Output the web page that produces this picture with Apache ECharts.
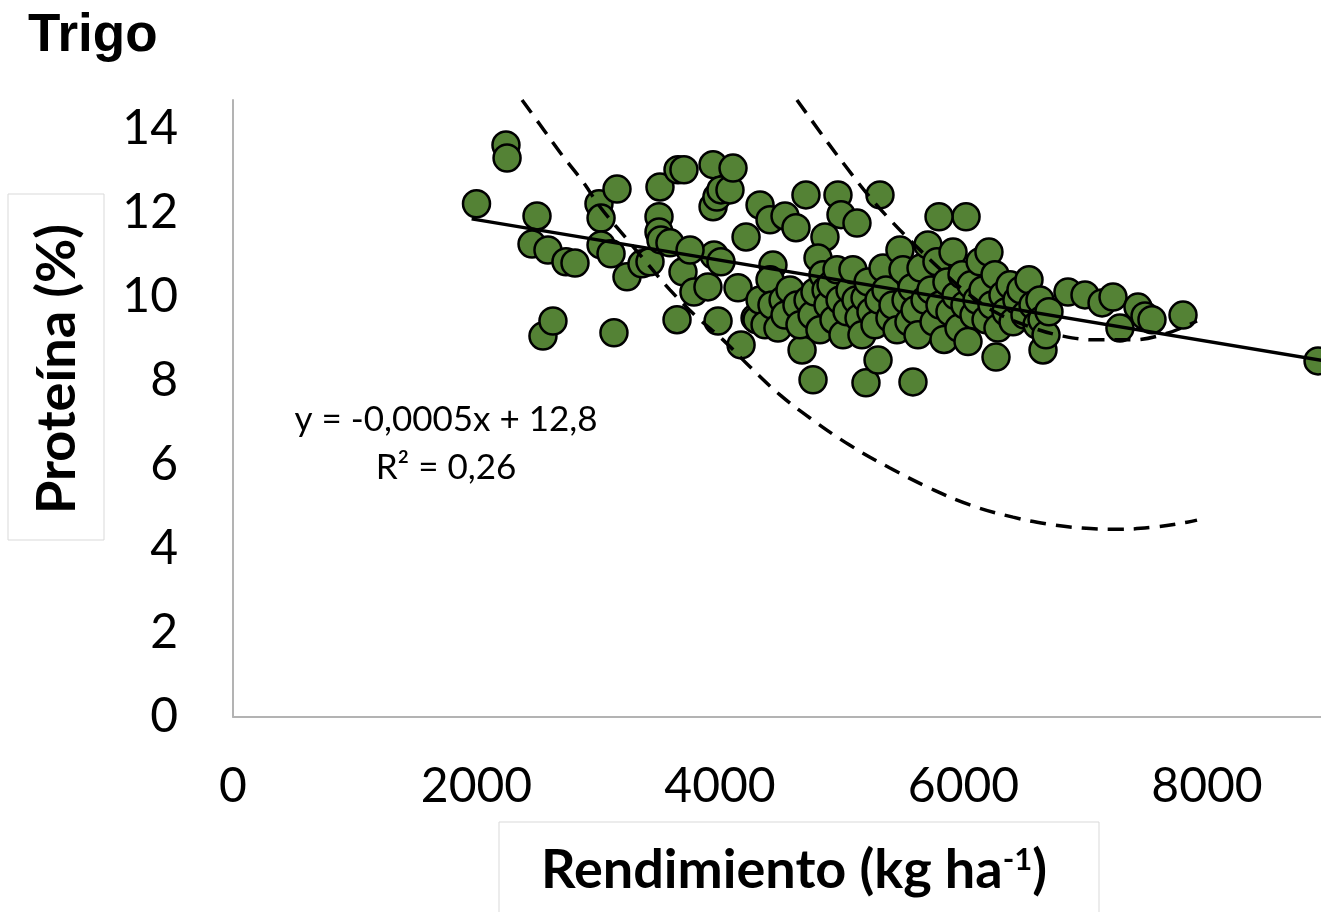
<!DOCTYPE html>
<html>
<head>
<meta charset="utf-8">
<script src="https://cdn.jsdelivr.net/npm/echarts@6/dist/echarts.min.js"></script>
<style>html,body{margin:0;padding:0;background:#fff}#c{width:1321px;height:912px}</style>
</head>
<body>
<div id="c"></div>
<script>
// ---- data ----
const yieldKg = [
  2000,2242,2251,2497,2456,2587,2546,2628,2735,2809,3006,3023,3023,3105,3129,3154,3236,3359,3425,3507,3499,3499,3515,3589,3655,3704,3647,3696,3786,3901,
  3943,3943,3975,4008,4082,4107,3951,4008,3984,4148,4173,4214,4288,4329,4411,4534,4624,4435,4706,4862,4969,4994,5125,5314,6021,5799,4764,5199,5585,4674,
  5298,6267,6653,3754,
  6858,6998,7138,7228,7285,7433,7491,7548,7803,8912,
  4304,4329,4370,4411,4427,4476,4518,4534,4575,4632,4657,
  4723,4756,4780,4805,4821,4846,4871,4887,4912,4936,4961,4986,5010,5043,5068,
  5092,5117,5142,5166,5191,5216,5240,5273,5306,5339,5363,5396,5421,5454,
  5478,5503,5528,5552,5577,5602,5626,5651,5684,5708,5733,5758,5782,5807,5840,5864,5889,
  5914,5938,5963,5988,6012,6037,6062,6086,6111,6136,6160,6185,6209,6234,6259,6283,
  6324,6349,6382,6407,6439,6472,6505,6538,6571,6604,6628,6645,6678,6702
];
const proteinPct = [
  12.21,13.61,13.30,11.92,11.25,11.11,9.06,9.42,10.83,10.80,12.21,11.87,11.23,11.02,9.14,12.56,10.47,10.78,10.83,12.61,11.90,11.54,11.35,11.28,13.02,13.02,9.45,10.59,10.11,10.23,
  13.14,12.14,12.37,12.54,12.54,13.06,10.99,10.83,9.42,10.21,8.85,11.42,9.49,12.18,11.83,11.92,11.64,10.75,12.42,11.42,12.42,11.95,11.75,12.42,11.90,11.90,8.02,7.95,7.97,8.73,
  8.49,8.56,8.73,11.11,
  10.11,10.04,9.85,9.99,9.25,9.75,9.54,9.45,9.56,8.47,
  9.45,9.92,9.33,10.40,9.80,9.25,9.92,9.56,10.16,9.80,9.33,
  9.92,9.56,10.11,10.92,9.21,10.52,10.16,9.80,10.28,9.45,10.64,9.92,9.09,9.64,10.16,
  10.64,9.92,9.49,9.09,9.97,10.35,9.64,9.33,9.92,10.68,10.16,9.49,9.80,9.21,
  11.11,10.64,9.92,9.40,10.21,9.68,9.09,10.68,9.92,11.23,10.16,9.40,10.83,9.80,8.98,10.35,9.64,
  11.06,10.02,9.25,10.52,9.80,8.93,10.28,9.56,9.92,10.83,10.16,9.45,11.06,9.80,10.52,9.25,
  10.04,9.64,10.28,9.40,9.92,10.16,9.56,10.40,9.80,9.33,9.92,9.45,9.09,9.64
];
const trendX = [1960, 8950];
const trendY = [11.85, 8.48];
const lowerBandX = [2374,2522,2702,2875,3014,3220,3400,3589,3811,4025,4246,4493,4739,5068,5396,5725,6053,6407,6686,6973,7261,7556,7836,7918];
const lowerBandY = [14.68,14.09,13.37,12.73,12.14,11.42,10.80,10.16,9.51,8.97,8.33,7.66,7.11,6.46,5.92,5.44,5.04,4.75,4.59,4.49,4.46,4.51,4.63,4.68];
const upperBandX = [4632,4887,5043,5216,5413,5618,5832,6029,6275,6546,6817,7097,7368,7655,7918];
const upperBandY = [14.68,13.66,13.06,12.42,11.78,11.18,10.59,10.09,9.61,9.28,9.06,8.97,8.97,9.11,9.42];
const xTicks = [0,2000,4000,6000,8000,10000];
const yTicks = [0,2,4,6,8,10,12,14];
const titleText = 'Trigo';
const xName = 'Rendimiento (kg ha';
const yName = 'Proteína (%)';
const eqText = 'y = -0,0005x + 12,8';
const r2Text = 'R² = 0,26';

const zip = (a, b) => a.map((v, i) => [v, b[i]]);
const chart = echarts.init(document.getElementById('c'), null, {renderer: 'canvas'});
const axisCol = '#b3b3b3';
chart.setOption({
  animation: false,
  backgroundColor: '#fff',
  grid: {left: 233, top: 100, width: 1217.5, height: 616.7, containLabel: false, outerBoundsMode: 'none'},
  xAxis: {
    type: 'value', min: xTicks[0], max: xTicks[xTicks.length-1], interval: 2000,
    axisLine: {show: true, onZero: false, lineStyle: {color: axisCol, width: 2}},
    axisTick: {show: false}, splitLine: {show: false},
    axisLabel: {fontFamily: 'Lato', fontSize: 48, color: '#000', margin: 46, formatter: v => String(v)}
  },
  yAxis: {
    type: 'value', min: 0, max: 14.68, interval: 2,
    axisLine: {show: true, onZero: false, lineStyle: {color: axisCol, width: 2}},
    axisTick: {show: false}, splitLine: {show: false},
    axisLabel: {fontFamily: 'Lato', fontSize: 48, color: '#000', margin: 55,
      formatter: v => (yTicks.indexOf(Math.round(v*100)/100) >= 0 ? String(v) : '')}
  },
  series: [
    {type: 'scatter', data: zip(yieldKg, proteinPct), symbol: 'circle', symbolSize: 27,
     itemStyle: {color: '#548235', borderColor: '#000', borderWidth: 2.5, opacity: 1}, z: 2},
    {type: 'line', data: zip(trendX, trendY), symbol: 'none', z: 5,
     lineStyle: {color: '#000', width: 3.5}},
    {type: 'line', data: zip(lowerBandX, lowerBandY), symbol: 'none', smooth: 0.4, z: 5,
     lineStyle: {color: '#000', width: 3.5, type: [16, 10]}},
    {type: 'line', data: zip(upperBandX, upperBandY), symbol: 'none', smooth: 0.4, z: 5,
     lineStyle: {color: '#000', width: 3.5, type: [16, 10]}}
  ],
  graphic: [
    {type: 'text', left: 28, top: 10, style: {text: titleText, font: 'bold 53px "Liberation Sans", Arial, sans-serif', fill: '#000'}},
    {type: 'rect', shape: {x: 8, y: 194, width: 96, height: 346}, style: {fill: 'none', stroke: '#d9d9d9', lineWidth: 1}},
    {type: 'text', x: 58, y: 369, rotation: Math.PI/2,
     style: {text: yName, font: 'bold 54px Lato', fill: '#000', align: 'center', verticalAlign: 'middle', textAlign: 'center', textVerticalAlign: 'middle'}},
    {type: 'rect', shape: {x: 499, y: 822, width: 600, height: 130}, style: {fill: 'none', stroke: '#d9d9d9', lineWidth: 1}},
    {type: 'text', x: 794, y: 871,
     style: {text: '{b|' + xName + '}{s|-1}{b|)}', fill: '#000', align: 'center', verticalAlign: 'middle', textAlign: 'center', textVerticalAlign: 'middle',
       rich: {b: {font: 'bold 54px Lato', fill: '#000'}, s: {font: 'bold 31px Lato', fill: '#000', padding: [0, 0, 23, 0]}}}},
    {type: 'text', x: 446, y: 420,
     style: {text: eqText, font: '35px Lato', fill: '#000', align: 'center', verticalAlign: 'middle', textAlign: 'center', textVerticalAlign: 'middle'}},
    {type: 'text', x: 446, y: 468,
     style: {text: r2Text, font: '35px Lato', fill: '#000', align: 'center', verticalAlign: 'middle', textAlign: 'center', textVerticalAlign: 'middle'}}
  ]
});
</script>
</body>
</html>
